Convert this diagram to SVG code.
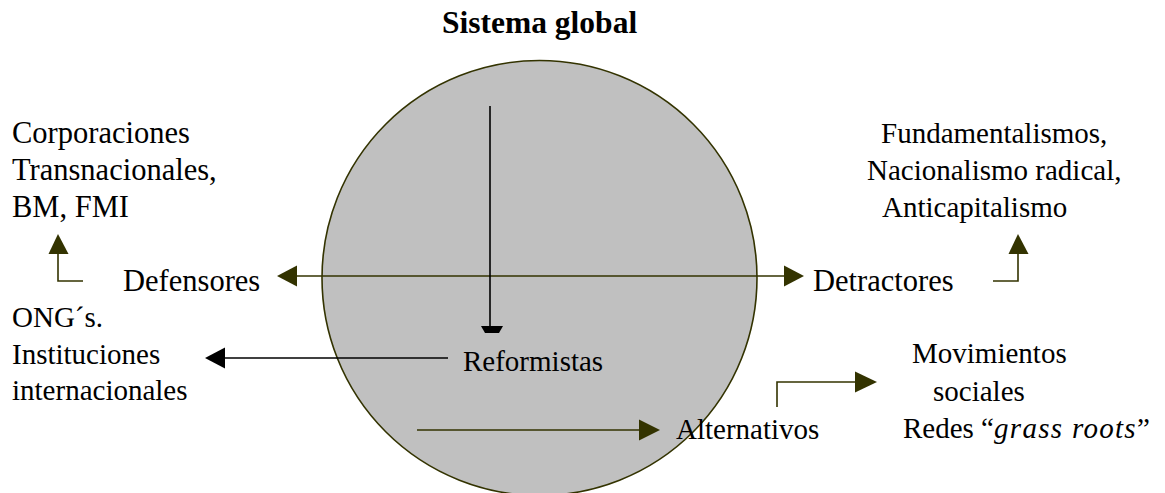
<svg xmlns="http://www.w3.org/2000/svg" width="1165" height="493" viewBox="0 0 1165 493">
<style>
text{font-family:"Liberation Serif","Times New Roman",serif;font-size:29px;fill:#000}
.t{font-weight:bold;font-size:31.5px}
.b{font-size:30.5px}
.o{stroke:#333300;stroke-width:1.6;fill:none}
.k{stroke:#000;stroke-width:1.6;fill:none}
.oh{fill:#333300}
.kh{fill:#000}
</style>
<rect width="1165" height="493" fill="#fff"/>
<g id="sistema">
<circle cx="539.5" cy="278" r="217.5" fill="#c0c0c0" stroke="#333300" stroke-width="1.6"/>
<text class="t" x="442" y="33">Sistema global</text>
</g>
<g id="connectors">
<line class="o" x1="296" y1="276" x2="785" y2="276"/>
<polygon class="oh" points="277,276 297,265.5 297,286.5"/>
<polygon class="oh" points="804,276 784,265.5 784,286.5"/>
<polyline class="o" points="83,281 58,281 58,252"/>
<polygon class="oh" points="58,234 48.5,254 68.5,254"/>
<polyline class="o" points="993,281 1018,281 1018,252"/>
<polygon class="oh" points="1018,234 1008.5,254 1028.5,254"/>
<line class="k" x1="490" y1="106" x2="490" y2="327"/>
<polygon class="kh" points="481,326 503,326 499,333 485,333"/>
<line class="k" x1="448" y1="358" x2="224" y2="358"/>
<polygon class="kh" points="205,358 225,347.5 225,368.5"/>
<line class="o" x1="417" y1="430" x2="641" y2="430"/>
<polygon class="oh" points="660,430 639,419.5 639,440.5"/>
<polyline class="o" points="777,407 777,382 857,382"/>
<polygon class="oh" points="877,382 855,371.5 855,392.5"/>
</g>
<g id="corporaciones" class="b">
<text class="b" x="12" y="143">Corporaciones</text>
<text class="b" x="12" y="180">Transnacionales,</text>
<text class="b" x="12" y="217">BM, FMI</text>
</g>
<g id="defensores"><text class="b" x="123" y="291">Defensores</text></g>
<g id="ong">
<text x="12" y="327">ONG´s.</text>
<text x="12" y="364">Instituciones</text>
<text x="12" y="400">internacionales</text>
</g>
<g id="fundamentalismos">
<text x="881" y="143">Fundamentalismos,</text>
<text x="867" y="180">Nacionalismo radical,</text>
<text x="882" y="217">Anticapitalismo</text>
</g>
<g id="detractores"><text class="b" x="813" y="291">Detractores</text></g>
<g id="reformistas"><text x="463" y="371">Reformistas</text></g>
<g id="alternativos"><text x="676" y="439">Alternativos</text></g>
<g id="movimientos">
<text x="912" y="363">Movimientos</text>
<text x="933" y="401">sociales</text>
<text x="903" y="438">Redes “<tspan font-style="italic" letter-spacing="1.3">grass roots</tspan>”</text>
</g>
</svg>
